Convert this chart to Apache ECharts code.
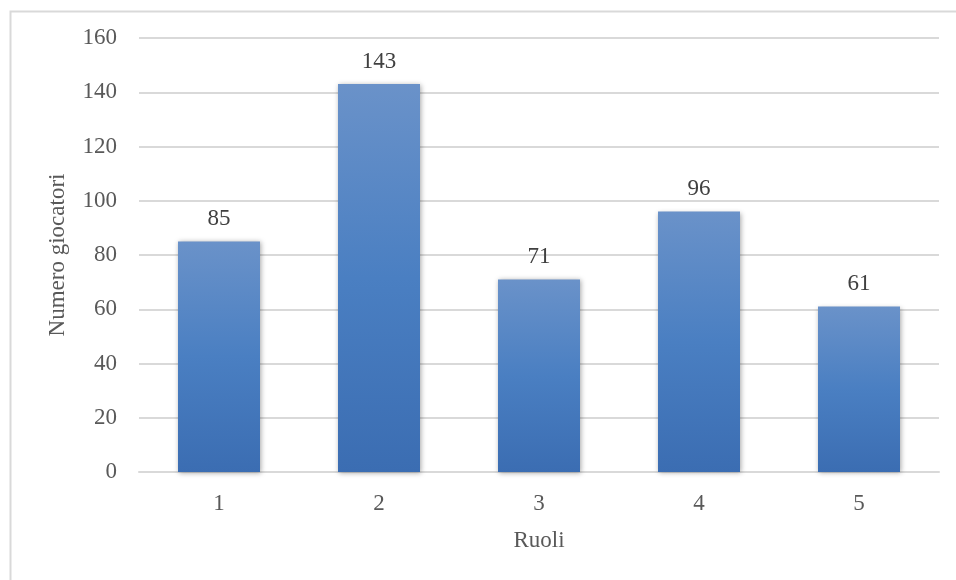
<!DOCTYPE html>
<html>
<head>
<meta charset="utf-8">
<style>
  html, body { margin: 0; padding: 0; background: #fff; }
  #chart { width: 956px; height: 580px; }
</style>
<script src="https://cdn.jsdelivr.net/npm/echarts@6/dist/echarts.min.js"></script>
</head>
<body>
<div id="chart"></div>
<script>
// Players per role
const categories = ['1', '2', '3', '4', '5'];
const players = [85, 143, 71, 96, 61];
const yTicks = { min: 0, max: 160, interval: 20 };

const FONT = '"Liberation Serif", "DejaVu Serif", serif';
const TEXT = '#595959';

const chart = echarts.init(document.getElementById('chart'), null, { renderer: 'canvas' });

chart.setOption({
  animation: false,
  backgroundColor: '#ffffff',
  graphic: [{
    type: 'rect',
    left: 8, top: 9,
    shape: { x: 0, y: 0, width: 960, height: 580 },
    style: { fill: 'none', stroke: '#d9d9d9', lineWidth: 2 },
    silent: true,
    z: -1
  }],
  grid: { left: 139, right: 17, top: 38, bottom: 108, containLabel: false },
  xAxis: {
    type: 'category',
    data: categories,
    name: 'Ruoli',
    nameLocation: 'middle',
    nameGap: 57,
    nameTextStyle: { fontFamily: FONT, fontSize: 23, color: TEXT },
    axisLine: { show: true, lineStyle: { color: '#d9d9d9', width: 2 } },
    axisTick: { show: false },
    axisLabel: { fontFamily: FONT, fontSize: 23, color: TEXT, margin: 20 }
  },
  yAxis: {
    type: 'value',
    min: yTicks.min, max: yTicks.max, interval: yTicks.interval,
    name: 'Numero giocatori',
    nameLocation: 'middle',
    nameGap: 70,
    nameTextStyle: { fontFamily: FONT, fontSize: 23, color: TEXT },
    axisLine: { show: false },
    axisTick: { show: false },
    axisLabel: { fontFamily: FONT, fontSize: 23, color: TEXT, margin: 22 },
    splitLine: { lineStyle: { color: '#d9d9d9', width: 2 } }
  },
  series: [{
    type: 'bar',
    data: players,
    barWidth: 82,
    itemStyle: {
      color: new echarts.graphic.LinearGradient(0, 0, 0, 1, [
        { offset: 0, color: '#6a92c9' },
        { offset: 0.5, color: '#4a7fc2' },
        { offset: 1, color: '#3b6db2' }
      ]),
      shadowColor: 'rgba(0,0,0,0.35)',
      shadowBlur: 5,
      shadowOffsetX: 1,
      shadowOffsetY: 1
    },
    label: {
      show: true,
      position: 'top',
      distance: 11,
      fontFamily: FONT,
      fontSize: 23,
      color: '#404040'
    }
  }]
});
</script>
</body>
</html>
